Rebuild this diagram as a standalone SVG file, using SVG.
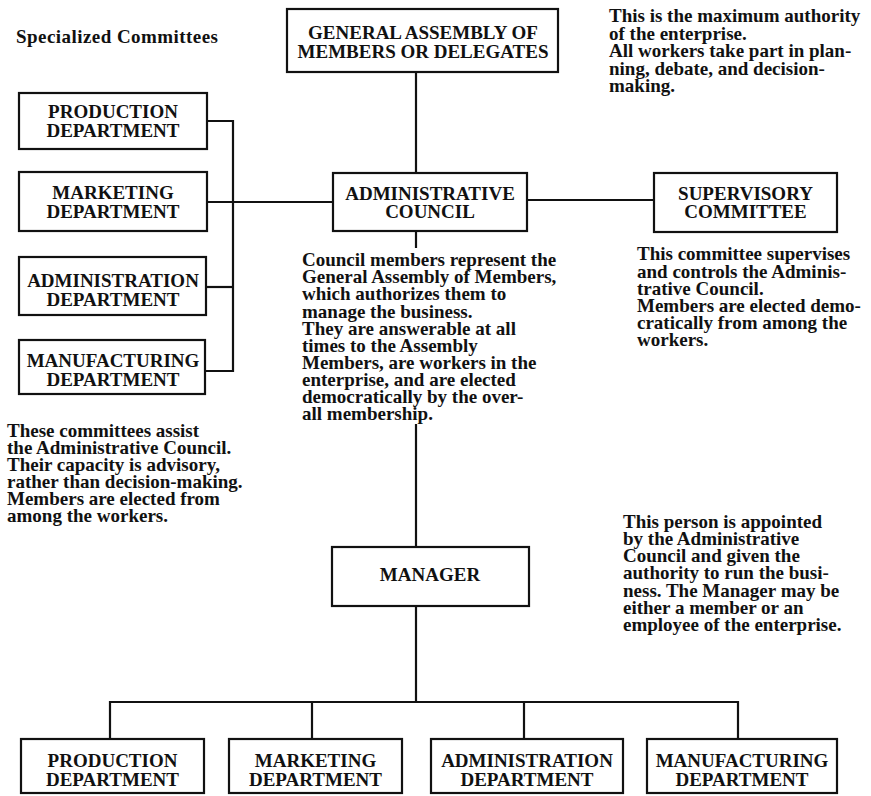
<svg xmlns="http://www.w3.org/2000/svg" width="871" height="796" viewBox="0 0 871 796">
<style>
.box{fill:#fff;stroke:#111;stroke-width:2.2}
.ln{fill:none;stroke:#111;stroke-width:2.2}
.lb{font-family:"Liberation Serif","Times New Roman",serif;font-weight:bold;font-size:19px;fill:#111;text-anchor:middle}
.tx{font-family:"Liberation Serif","Times New Roman",serif;font-weight:bold;font-size:19px;fill:#111}
</style>
<rect width="871" height="796" fill="#fff"/>
<g id="connectors">
<path class="ln" d="M416,72 V173"/>
<path class="ln" d="M207,121 H233 V371 H205"/>
<path class="ln" d="M207,202 H333"/>
<path class="ln" d="M205,287 H233"/>
<path class="ln" d="M527,200 H654"/>
<path class="ln" d="M416,231 V248"/>
<path class="ln" d="M416,424 V547"/>
<path class="ln" d="M416,606 V702"/>
<path class="ln" d="M110,739 V702 H738 V739"/>
<path class="ln" d="M312,702 V739"/>
<path class="ln" d="M524,702 V739"/>
</g>
<text class="tx" x="16" y="43" textLength="202" lengthAdjust="spacing">Specialized  Committees</text>
<g id="general-assembly">
<rect class="box" x="287" y="9" width="271" height="63"/>
<text class="lb"><tspan x="423" y="39">GENERAL ASSEMBLY OF</tspan><tspan x="423" y="58">MEMBERS OR DELEGATES</tspan></text>
</g>
<g id="ga-note">
<text class="tx"><tspan x="609" y="22">This is the maximum authority</tspan><tspan x="609" y="39.5">of the enterprise.</tspan><tspan x="609" y="57">All workers take part in plan-</tspan><tspan x="609" y="74.5">ning, debate, and decision-</tspan><tspan x="609" y="92">making.</tspan></text>
</g>
<g id="spec-production">
<rect class="box" x="19" y="93" width="188" height="56"/>
<text class="lb"><tspan x="113" y="118">PRODUCTION</tspan><tspan x="113" y="137">DEPARTMENT</tspan></text>
</g>
<g id="spec-marketing">
<rect class="box" x="19" y="172" width="188" height="59"/>
<text class="lb"><tspan x="113" y="199">MARKETING</tspan><tspan x="113" y="218">DEPARTMENT</tspan></text>
</g>
<g id="spec-administration">
<rect class="box" x="19" y="257" width="187" height="58"/>
<text class="lb"><tspan x="113" y="287">ADMINISTRATION</tspan><tspan x="113" y="306">DEPARTMENT</tspan></text>
</g>
<g id="spec-manufacturing">
<rect class="box" x="19" y="340" width="186" height="54"/>
<text class="lb"><tspan x="113" y="367">MANUFACTURING</tspan><tspan x="113" y="386">DEPARTMENT</tspan></text>
</g>
<g id="administrative-council">
<rect class="box" x="333" y="173" width="194" height="58"/>
<text class="lb"><tspan x="430" y="200">ADMINISTRATIVE</tspan><tspan x="430" y="218">COUNCIL</tspan></text>
</g>
<g id="supervisory-committee">
<rect class="box" x="654" y="173" width="183" height="59"/>
<text class="lb"><tspan x="745.5" y="200">SUPERVISORY</tspan><tspan x="745.5" y="218">COMMITTEE</tspan></text>
</g>
<g id="council-note">
<text class="tx"><tspan x="302" y="266">Council members represent the</tspan><tspan x="302" y="283">General Assembly of Members,</tspan><tspan x="302" y="300">which authorizes them to</tspan><tspan x="302" y="317.5">manage the business.</tspan><tspan x="302" y="334.5">They are answerable at all</tspan><tspan x="302" y="351.5">times to the Assembly</tspan><tspan x="302" y="368.5">Members, are workers in the</tspan><tspan x="302" y="386">enterprise, and are elected</tspan><tspan x="302" y="403">democratically by the over-</tspan><tspan x="302" y="420">all membership.</tspan></text>
</g>
<g id="supervisory-note">
<text class="tx"><tspan x="637" y="260">This committee supervises</tspan><tspan x="637" y="277.5">and controls the Adminis-</tspan><tspan x="637" y="294.5">trative Council.</tspan><tspan x="637" y="311.5">Members are elected demo-</tspan><tspan x="637" y="329">cratically from among the</tspan><tspan x="637" y="346">workers.</tspan></text>
</g>
<g id="committees-note">
<text class="tx"><tspan x="7" y="437">These committees assist</tspan><tspan x="7" y="454">the Administrative Council.</tspan><tspan x="7" y="471">Their capacity is advisory,</tspan><tspan x="7" y="488">rather than decision-making.</tspan><tspan x="7" y="505">Members are elected from</tspan><tspan x="7" y="522">among the workers.</tspan></text>
</g>
<g id="manager">
<rect class="box" x="332" y="547" width="197" height="59"/>
<text class="lb" x="430" y="581">MANAGER</text>
</g>
<g id="manager-note">
<text class="tx"><tspan x="623" y="528">This person is appointed</tspan><tspan x="623" y="545">by the Administrative</tspan><tspan x="623" y="562">Council and given the</tspan><tspan x="623" y="579">authority to run the busi-</tspan><tspan x="623" y="596.5">ness. The Manager may be</tspan><tspan x="623" y="613.5">either a member or an</tspan><tspan x="623" y="630.5">employee of the enterprise.</tspan></text>
</g>
<g id="dept-production">
<rect class="box" x="21" y="739" width="183" height="54"/>
<text class="lb"><tspan x="112.5" y="767">PRODUCTION</tspan><tspan x="112.5" y="786">DEPARTMENT</tspan></text>
</g>
<g id="dept-marketing">
<rect class="box" x="229" y="739" width="173" height="54"/>
<text class="lb"><tspan x="315.5" y="767">MARKETING</tspan><tspan x="315.5" y="786">DEPARTMENT</tspan></text>
</g>
<g id="dept-administration">
<rect class="box" x="431" y="739" width="192" height="54"/>
<text class="lb"><tspan x="527" y="767">ADMINISTRATION</tspan><tspan x="527" y="786">DEPARTMENT</tspan></text>
</g>
<g id="dept-manufacturing">
<rect class="box" x="647" y="739" width="190" height="54"/>
<text class="lb"><tspan x="742" y="767">MANUFACTURING</tspan><tspan x="742" y="786">DEPARTMENT</tspan></text>
</g>
</svg>
